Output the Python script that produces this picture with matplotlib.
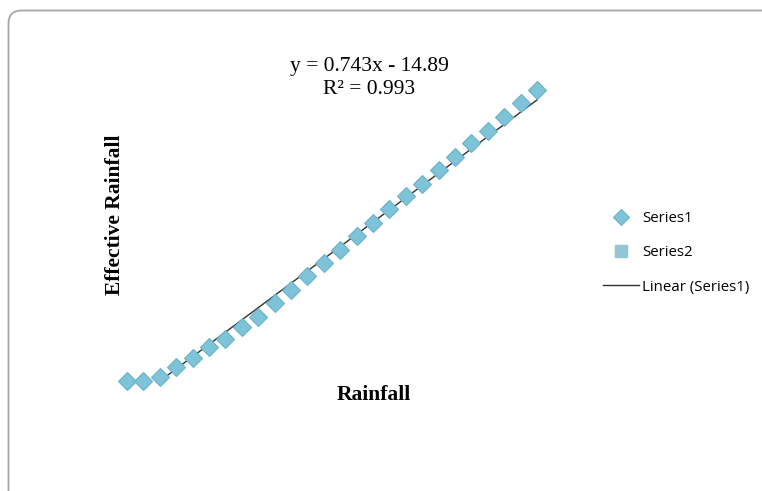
import matplotlib.pyplot as plt
from matplotlib.patches import FancyBboxPatch
import numpy as np

rainfall = [0, 10, 20, 30, 40, 50, 60, 70, 80, 90, 100, 110, 120,
            130, 140, 150, 160, 170, 180, 190, 200, 210, 220, 230, 240, 250]
effective = [0, 0, 2.6, 8.5, 14.2, 20.5, 25.7, 32.6, 38.7, 47.6, 55.3, 63.8, 71.5,
             79.6, 88.1, 95.9, 104.4, 112.5, 119.8, 128.3, 136.0, 144.9, 152.2, 160.7, 168.8, 176.9]
series2_x = []
series2_y = []

slope = 0.743
intercept = -14.89
r2 = 0.993

marker_col = "#7EC3D7"
edge_col = "#6AB3C9"

fig = plt.figure(figsize=(7.62, 4.91), dpi=100)

# rounded chart frame (Excel style), in inches so the corner stays round
frame = FancyBboxPatch((0.085, -1.0), 9.0, (491 - 10.5) / 100 + 1.0,
                       boxstyle="round,pad=0,rounding_size=0.13",
                       transform=fig.dpi_scale_trans, fill=False,
                       edgecolor="#A6A6A6", linewidth=1.3)
fig.patches.append(frame)

ax = fig.add_axes([127 / 762, 110 / 491, 260 * 1.64 / 762, 185 * 1.645 / 491])
ax.set_xlim(0, 260)
ax.set_ylim(0, 185)
ax.axis("off")

ax.plot(rainfall, effective, linestyle="none", marker="D", markersize=9,
        markerfacecolor=marker_col, markeredgecolor=edge_col, markeredgewidth=0.8,
        clip_on=False, label="Series1", zorder=3)
ax.plot(series2_x, series2_y, linestyle="none", marker="s", markersize=9,
        markerfacecolor="#92C5D6", markeredgecolor="#92C5D6", label="Series2")

xs = np.array([min(rainfall), max(rainfall)])
ax.plot(xs, slope * xs + intercept, color="#303030", linewidth=1.0,
        label="Linear (Series1)", zorder=2)

serif = "Liberation Serif"
fig.text(369 / 762, 1 - 67 / 491, "y = %.3fx - %.2f" % (slope, -intercept),
         ha="center", va="center", fontsize=15.5, family=serif)
fig.text(369 / 762, 1 - 89 / 491, "R² = %.3f" % r2,
         ha="center", va="center", fontsize=15.5, family=serif)
fig.text(115 / 762, 1 - 215 / 491, "Effective Rainfall", rotation=90,
         ha="center", va="center", fontsize=15.5, family=serif, fontweight="bold")
fig.text(374 / 762, 1 - 395 / 491, "Rainfall",
         ha="center", va="center", fontsize=15.5, family=serif, fontweight="bold")

leg = ax.legend(loc="center left", bbox_to_anchor=(595 / 762, 1 - 253 / 491),
                bbox_transform=fig.transFigure, frameon=False,
                prop={"family": "Open Sans", "size": 10.8}, handlelength=2.45,
                handletextpad=0.18, labelspacing=1.28, borderpad=0)
for h in leg.legend_handles[:2]:
    h.set_markersize(8)

fig.savefig("out.png", dpi=100)
